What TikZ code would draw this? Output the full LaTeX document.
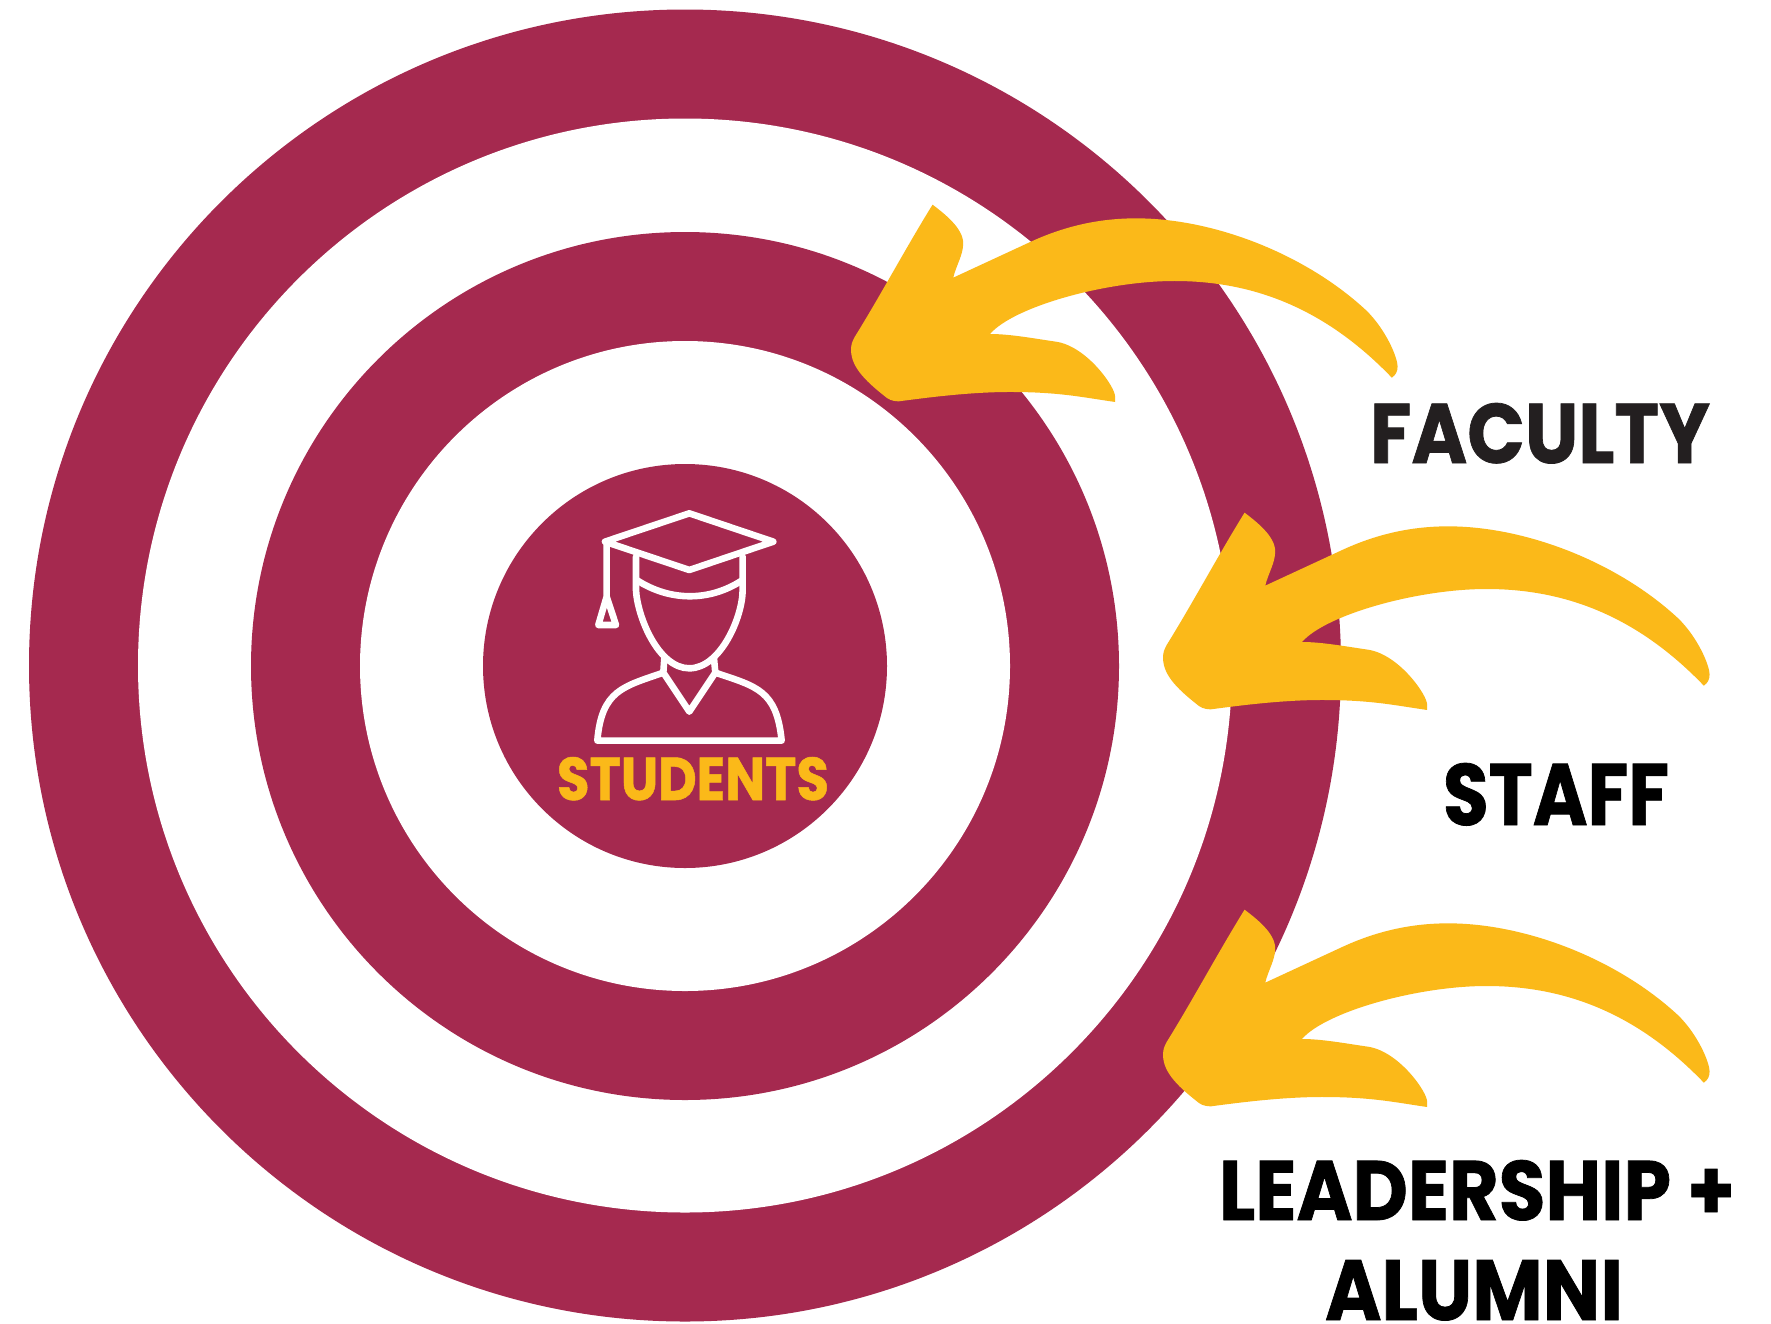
\documentclass[tikz,border=0pt]{standalone}
\usepackage{fontspec}
\usepackage{graphicx}
\setmainfont{Poppins}
\newfontfamily\heavyface[FakeBold=0.9]{Poppins Bold}
\definecolor{maroon}{HTML}{A5294F}
\definecolor{gold}{HTML}{FBB919}
\definecolor{inkdark}{HTML}{231F20}
\newcommand{\fitlabel}[3]{\resizebox{#1pt}{#2pt}{\fontsize{80}{80}\selectfont\heavyface #3}}
\tikzset{
  ringdisc/.style={circle,inner sep=0pt,outer sep=0pt,minimum size=#1pt},
  bigword/.style={anchor=base west,inner sep=0pt,outer sep=0pt},
  iconline/.style={draw=white,line width=6.6pt,line join=round,line cap=round},
  swoop/.style={fill=gold,draw=none},
  swoopframe/.style={xscale=0.3827,yscale=0.3333}
}
\newcommand{\swooppath}{
  (268,44) .. controls (300,72) and (348,115) .. (348,160)
  .. controls (348,195) and (330,225) .. (322,263)
  -- (525,155)
  .. controls (620,105) and (710,85) .. (800,85)
  .. controls (1000,85) and (1240,190) .. (1400,360)
  .. controls (1450,415) and (1483,500) .. (1483,530)
  .. controls (1483,545) and (1478,555) .. (1468,563)
  .. controls (1290,350) and (1100,273) .. (900,273)
  .. controls (720,273) and (480,350) .. (418,432)
  .. controls (470,432) and (530,445) .. (590,455)
  .. controls (670,468) and (745,590) .. (745,620)
  -- (745,636)
  .. controls (660,622) and (600,606) .. (470,606)
  .. controls (360,606) and (240,625) .. (180,634)
  .. controls (170,634) and (160,632) .. (150,625)
  .. controls (100,580) and (55,535) .. (55,480)
  .. controls (55,462) and (58,455) .. (65,440)
  .. controls (130,320) and (200,170) .. (268,44) -- cycle
}
\begin{document}
\begin{tikzpicture}[x=1pt,y=-1pt]
\useasboundingbox (0,0) rectangle (1771,1323);
\fill[white] (0,0) rectangle (1771,1323);
% concentric rings
\node[ringdisc=1312,fill=maroon] (ringA) at (685,665.5) {};
\node[ringdisc=1094,fill=white] (ringB) at (685,665.5) {};
\node[ringdisc=868,fill=maroon] (ringC) at (685,666) {};
\node[ringdisc=650,fill=white] (ringD) at (685,666) {};
\node[ringdisc=404,fill=maroon] (core) at (685,666) {};
% graduate icon
\begin{scope}[shift={(480,450)},x=0.3333pt,y=-0.3333pt]
  \draw[iconline] (628,190) -- (880,275) -- (628,360) -- (375,275) -- cycle;
  \draw[iconline] (380,275) -- (380,440) -- (408,525) -- (355,525) -- (380,440);
  \draw[iconline] (468,320) -- (468,420) .. controls (472,500) and (535,655) .. (628,655)
     .. controls (722,655) and (788,500) .. (788,420) -- (788,320);
  \draw[iconline] (470,390) .. controls (570,455) and (690,455) .. (788,390);
  \draw[iconline] (553,625) -- (550,668) -- (628,785) -- (706,668) -- (702,625);
  \draw[iconline] (550,668) .. controls (430,710) and (365,720) .. (352,872)
     -- (905,872) .. controls (890,720) and (830,710) .. (706,668);
\end{scope}
\node[bigword,text=gold] (students) at (557,800) {\fitlabel{272}{43}{STUDENTS}};
% arrows
\begin{scope}[shift={(830,190)},swoopframe]
  \fill[swoop] \swooppath;
\end{scope}
\begin{scope}[shift={(1142,498)},swoopframe]
  \fill[swoop] \swooppath;
\end{scope}
\begin{scope}[shift={(1142,895)},swoopframe]
  \fill[swoop] \swooppath;
\end{scope}
% labels
\node[bigword,text=inkdark] (faculty) at (1370,463) {\fitlabel{340}{60}{FACULTY}};
\node[bigword,text=black] (staff) at (1443,825) {\fitlabel{226}{62}{STAFF}};
\node[bigword,text=black] (leadership) at (1219,1220) {\fitlabel{516}{60}{LEADERSHIP +}};
\node[bigword,text=black] (alumni) at (1325,1320) {\fitlabel{298}{60}{ALUMNI}};
\end{tikzpicture}
\end{document}
